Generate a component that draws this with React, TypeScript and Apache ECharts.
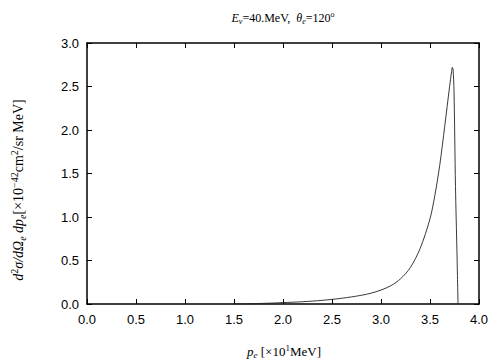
import React, { useEffect, useRef } from 'react';
import * as echarts from 'echarts';

// p_e in units of 10 MeV
const momentum = [1.5, 1.7, 1.9, 2.0, 2.2, 2.4, 2.6, 2.8, 2.9, 3.0, 3.1, 3.2, 3.3, 3.4, 3.5, 3.55, 3.6, 3.65, 3.7, 3.72, 3.728, 3.735, 3.745, 3.76, 3.775, 3.786];
// d2 sigma / dOmega dp  [1e-42 cm2/sr MeV]
const crossSection = [0.0, 0.004, 0.011, 0.016, 0.026, 0.042, 0.066, 0.1, 0.125, 0.16, 0.21, 0.29, 0.42, 0.64, 0.98, 1.25, 1.6, 2.04, 2.5, 2.67, 2.72, 2.7, 2.45, 1.35, 0.6, 0.0];
const xTickLabels = ['0.0', '0.5', '1.0', '1.5', '2.0', '2.5', '3.0', '3.5', '4.0'];
const yTickLabels = ['0.0', '0.5', '1.0', '1.5', '2.0', '2.5', '3.0'];

const serif = '"Liberation Serif", "DejaVu Serif", serif';
const sans = '"Liberation Sans", Arial, sans-serif';

function rich(size: number, sub: number, shift: number) {
  return {
    r: { fontFamily: serif, fontSize: size, color: '#000' },
    i: { fontFamily: serif, fontSize: size, fontStyle: 'italic', color: '#000' },
    sub: { fontFamily: serif, fontSize: sub, fontStyle: 'italic', color: '#000', padding: [shift, 0, 0, 0] },
    sup: { fontFamily: serif, fontSize: sub, color: '#000', padding: [0, 0, shift, 0] },
  };
}

export default function App() {
  const ref = useRef<HTMLDivElement>(null);
  useEffect(() => {
    if (!ref.current) return;
    const chart = echarts.init(ref.current, undefined, { renderer: 'svg' });
    const data = momentum.map((x, i) => [x, crossSection[i]]);
    const tickStyle = { show: true, inside: true, length: 5, lineStyle: { color: '#000', width: 1 } };
    const lineStyle = { color: '#000', width: 1.5 };
    chart.setOption({
      animation: false,
      backgroundColor: '#fff',
      grid: { left: 87, right: 25, top: 43, bottom: 56, containLabel: false },
      xAxis: [
        {
          type: 'value', min: 0, max: 4, interval: 0.5,
          axisLine: { show: true, onZero: false, lineStyle },
          axisTick: tickStyle,
          splitLine: { show: false },
          axisLabel: {
            color: '#000', fontFamily: sans, fontSize: 13, margin: 9,
            formatter: (v: number) => xTickLabels[Math.round(v / 0.5)] ?? '',
          },
        },
        {
          type: 'value', min: 0, max: 4, interval: 0.5, position: 'top',
          axisLine: { show: true, onZero: false, lineStyle },
          axisTick: tickStyle, splitLine: { show: false }, axisLabel: { show: false },
        },
      ],
      yAxis: [
        {
          type: 'value', min: 0, max: 3, interval: 0.5,
          axisLine: { show: true, onZero: false, lineStyle },
          axisTick: tickStyle,
          splitLine: { show: false },
          axisLabel: {
            color: '#000', fontFamily: sans, fontSize: 13, margin: 8,
            formatter: (v: number) => yTickLabels[Math.round(v / 0.5)] ?? '',
          },
        },
        {
          type: 'value', min: 0, max: 3, interval: 0.5, position: 'right',
          axisLine: { show: true, onZero: false, lineStyle },
          axisTick: tickStyle, splitLine: { show: false }, axisLabel: { show: false },
        },
      ],
      series: [
        {
          type: 'line', data, showSymbol: false, smooth: 0.3,
          lineStyle: { color: '#222', width: 0.9 },
          xAxisIndex: 0, yAxisIndex: 0,
        },
      ],
      graphic: [
        {
          type: 'text', x: 283, y: 18,
          style: {
            text: '{i|E}{sub|ν}{r|=40.MeV,  }{i|θ}{sub|e}{r|=120}{sup|o}',
            rich: rich(12, 8, 7), align: 'center', verticalAlign: 'middle',
          },
        },
        {
          type: 'text', x: 284, y: 351,
          style: {
            text: '{i|p}{sub|e}{r| [×10}{sup|1}{r|MeV]}',
            rich: rich(13, 9, 7), align: 'center', verticalAlign: 'middle',
          },
        },
        {
          type: 'text', x: 18, y: 190, rotation: Math.PI / 2,
          style: {
            text: '{i|d}{sup|2}{i|σ/dΩ}{sub|e}{i| dp}{sub|e}{r|[×10}{sup|−42}{r|cm}{sup|2}{r|/sr MeV]}',
            rich: rich(14, 10, 8), align: 'center', verticalAlign: 'middle',
          },
        },
      ],
    });
    return () => chart.dispose();
  }, []);
  return <div ref={ref} style={{ width: 504, height: 360, position: 'absolute', left: 0, top: 0 }} />;
}
